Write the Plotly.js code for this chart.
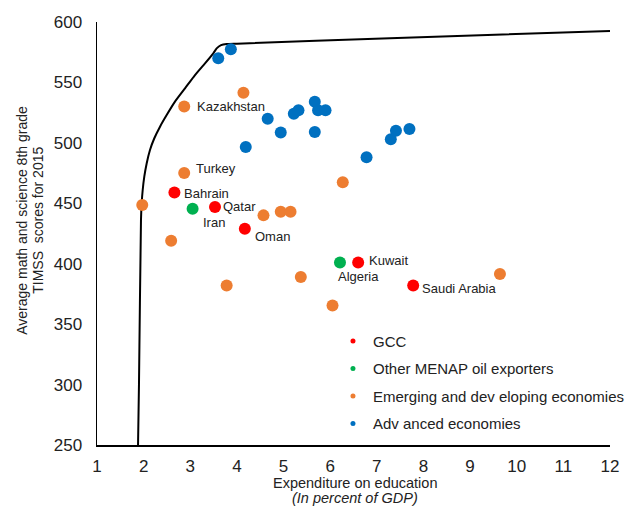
<!DOCTYPE html>
<html>
<head>
<meta charset="utf-8">
<script src="https://cdn.plot.ly/plotly-3.0.1.min.js"></script>
<style>html,body{margin:0;padding:0;background:#fff;}#chart{width:626px;height:508px;}</style>
</head>
<body>
<div id="chart"></div>
<script>
// Efficiency frontier
const frontierX = [1.88, 1.90, 1.943, 1.958, 1.980, 2.014, 2.066, 2.136, 2.229, 2.351, 2.494, 2.672, 2.887, 3.101, 3.316, 3.494, 3.566, 3.66, 3.78, 4.0, 7.28, 12];
const frontierY = [250, 300, 436.2, 450.0, 461.0, 472.0, 483.1, 494.1, 503.8, 513.4, 523.0, 534.1, 545.1, 556.1, 565.8, 574.1, 578.2, 580.8, 581.8, 582.1, 586.6, 592.6];

// GCC
const gccNames = ["Bahrain", "Qatar", "Oman", "Kuwait", "Saudi Arabia"];
const gccX = [2.66, 3.53, 4.17, 6.60, 7.78];
const gccY = [459, 447, 429, 401, 382];

// Other MENAP oil exporters
const menapNames = ["Iran", "Algeria"];
const menapX = [3.05, 6.21];
const menapY = [445.5, 401];

// Emerging and developing economies
const emNames = ["", "Kazakhstan", "Turkey", "", "", "", "", "", "", "", "", "", ""];
const emX = [4.14, 2.87, 2.87, 1.97, 4.57, 4.94, 5.15, 2.59, 6.27, 3.78, 5.37, 6.05, 9.64];
const emY = [541.5, 530, 475, 448.5, 440, 443, 443, 419, 467.5, 382, 389, 365.5, 391.5];

// Advanced economies
const advX = [3.60, 3.87, 4.66, 4.94, 4.19, 5.22, 5.32, 5.67, 5.74, 5.90, 5.67, 6.78, 7.30, 7.41, 7.70];
const advY = [570, 577.5, 520, 508.5, 496.5, 524, 527, 534, 527, 527, 509, 488, 503, 510, 511.5];

const xTicks = [1,2,3,4,5,6,7,8,9,10,11,12];
const yTicks = [250,300,350,400,450,500,550,600];

const seriesNames = ["GCC", "Other MENAP oil exporters", "Emerging and developing economies", "Advanced economies"];
const legendLabels = ["GCC", "Other MENAP oil exporters", "Emerging and dev eloping economies", "Adv anced economies"];
const colors = ["#FF0000", "#00B050", "#ED7D31", "#0070C0"];

const FONT = "Liberation Sans, Arial, sans-serif";

const pts = [[gccX, gccY], [menapX, menapY], [emX, emY], [advX, advY]];
const traces = [];
traces.push({
  x: frontierX, y: frontierY, type: 'scatter', mode: 'lines',
  line: {color: '#000', width: 2, shape: 'spline', smoothing: 0.5},
  showlegend: false, hoverinfo: 'skip'
});
[3,2,1,0].forEach(i => {
  traces.push({
    x: pts[i][0], y: pts[i][1], type: 'scatter', mode: 'markers',
    name: seriesNames[i],
    marker: {color: colors[i], size: 12},
    showlegend: false
  });
});
[0,1,2,3].forEach(i => {
  traces.push({
    x: [null], y: [null], type: 'scatter', mode: 'markers',
    name: legendLabels[i], legendgroup: 'g' + i,
    marker: {color: colors[i], size: 5},
    showlegend: true
  });
});

const labelShift = {
  "Kazakhstan": [11, 0, 'left'],
  "Turkey": [10, 5, 'left'],
  "Bahrain": [8, -1, 'left'],
  "Qatar": [6, 0, 'left'],
  "Iran": [8, -14, 'left'],
  "Oman": [8, -8, 'left'],
  "Kuwait": [9, 2, 'left'],
  "Algeria": [-4, -14, 'left'],
  "Saudi Arabia": [7, -3, 'left']
};
const annotations = [];
function addLabels(names, xs, ys) {
  names.forEach((n, k) => {
    if (!n) return;
    const s = labelShift[n];
    annotations.push({
      x: xs[k], y: ys[k], text: n, showarrow: false,
      xanchor: s[2], yanchor: 'middle', xshift: s[0], yshift: s[1],
      font: {family: FONT, size: 13, color: '#222'}
    });
  });
}
addLabels(gccNames, gccX, gccY);
addLabels(menapNames, menapX, menapY);
addLabels(emNames, emX, emY);

const xTitleLines = ['Expenditure on education', '<i>(In percent of GDP)</i>'];
const xTitleY = [-0.0898, -0.1253];
xTitleLines.forEach((t, k) => annotations.push({
  xref: 'paper', yref: 'paper', x: 0.503, y: xTitleY[k], xanchor: 'center', yanchor: 'middle',
  text: t, showarrow: false, font: {family: FONT, size: 14.5, color: '#222'}
}));
const yTitleLines = ['Average math and science 8th grade', 'TIMSS  scores for 2015'];
const yTitleX = [-0.1465, -0.1153];
yTitleLines.forEach((t, k) => annotations.push({
  xref: 'paper', yref: 'paper', x: yTitleX[k], y: 0.532, xanchor: 'center', yanchor: 'middle',
  textangle: -90, text: t, showarrow: false, font: {family: FONT, size: 14, color: '#222'}
}));

const layout = {
  width: 626, height: 508,
  margin: {l: 97, r: 16, t: 22, b: 63, autoexpand: false},
  paper_bgcolor: '#fff', plot_bgcolor: '#fff',
  font: {family: FONT, color: '#222'},
  xaxis: {
    range: [1, 12], tickvals: xTicks, ticktext: xTicks.map(String),
    showgrid: false, zeroline: false, showline: true, linecolor: '#000', linewidth: 1.5,
    ticks: '', ticklabelstandoff: 5, tickfont: {family: FONT, size: 17, color: '#222'}
  },
  yaxis: {
    range: [250, 600], tickvals: yTicks, ticktext: yTicks.map(String),
    showgrid: false, zeroline: false, showline: true, linecolor: '#000', linewidth: 1.5,
    ticks: '', ticklabelstandoff: 10, tickfont: {family: FONT, size: 17, color: '#222'}
  },
  legend: {
    x: 0.46, y: 0.284, xanchor: 'left', yanchor: 'top',
    font: {family: FONT, size: 15, color: '#222'},
    bgcolor: 'rgba(0,0,0,0)', traceorder: 'grouped', tracegroupgap: 5,
    itemwidth: 30
  },
  annotations: annotations,
  showlegend: true
};

Plotly.newPlot('chart', traces, layout, {displayModeBar: false, staticPlot: true});
</script>
</body>
</html>
